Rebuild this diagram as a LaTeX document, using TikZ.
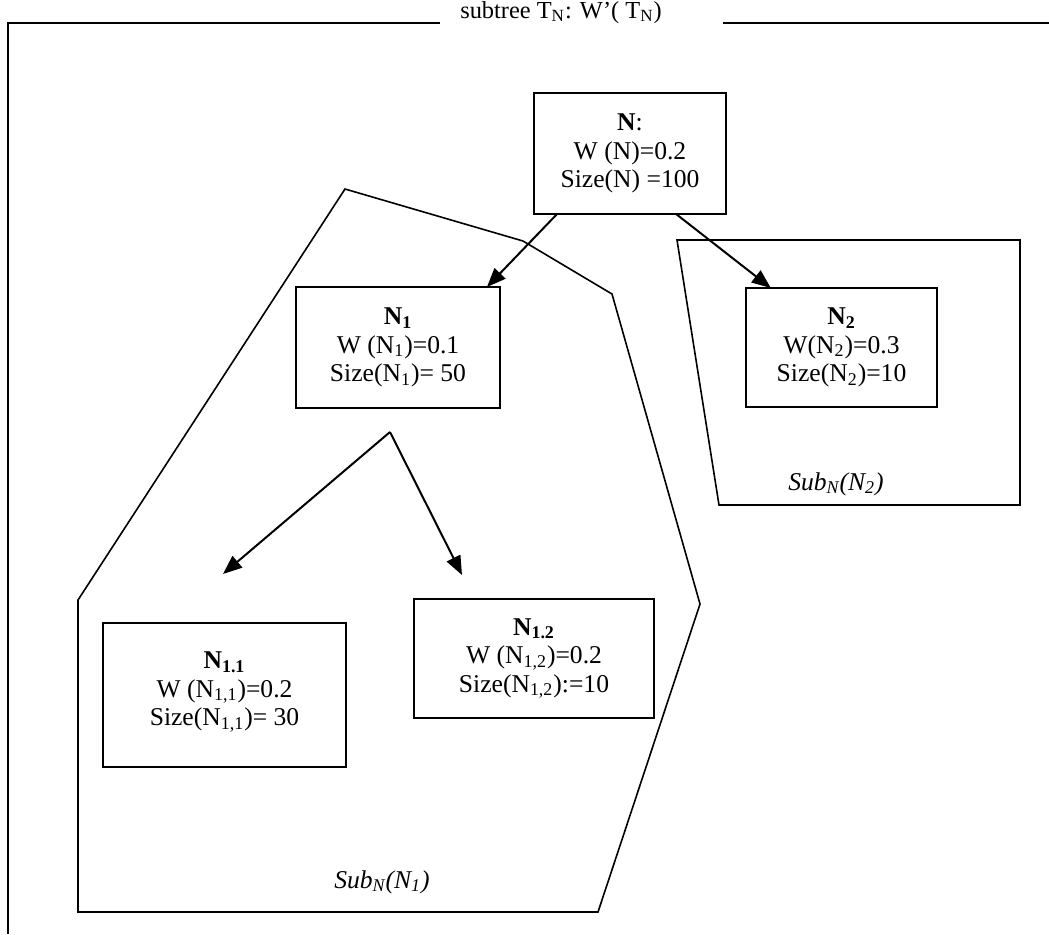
\documentclass[tikz,border=0pt]{standalone}
\usepackage{fontspec}
\setmainfont{Liberation Serif}
\usetikzlibrary{arrows.meta,calc}

\begin{document}
\begin{tikzpicture}[x=0.5pt,y=-0.5pt,
  box/.style={draw,line width=1pt,inner sep=0pt,outer sep=0pt,align=center,
    font=\fontsize{12.8}{14.3}\selectfont},
  region/.style={draw,line width=0.8pt,line join=miter},
  frame/.style={line width=1pt},
  arr/.style={line width=1pt,-{Triangle[length=9.5pt,width=7.5pt]}},
  lbl/.style={inner sep=0pt,font=\fontsize{12.8}{14.3}\selectfont\itshape}]

\useasboundingbox (0,0) rectangle (1049,934);

% outer frame with its title
\node[inner sep=0pt,anchor=base,font=\fontsize{12.2}{14}\selectfont] (title) at (561,18)
  {subtree T\textsubscript{N}: W'( T\textsubscript{N})};
\draw[frame] (440,23) -- (8,23) -- (8,934);
\draw[frame] (723,23) -- (1049,23);

% the two sub-subtree regions
\draw[region] (78,600) -- (345,189) -- (523,241) -- (612,294) -- (700,604)
  -- (598,912) -- (78,912) -- cycle;
\draw[region] (677,240) -- (1020,240) -- (1020,505) -- (719,505) -- cycle;
\node[lbl] (subN1) at (382,882) {Sub\textsubscript{N}(N\textsubscript{1})};
\node[lbl] (subN2) at (836,484) {Sub\textsubscript{N}(N\textsubscript{2})};

% tree nodes
\node[box,minimum width=96pt,minimum height=60.5pt] (N) at (630,153.5)
  {\textbf{N}:\\W (N)=0.2\\Size(N) =100};
\node[box,minimum width=102pt,minimum height=60.5pt] (N1) at (398,347.5)
  {\textbf{N\textsubscript{1}}\\W (N\textsubscript{1})=0.1\\Size(N\textsubscript{1})= 50};
\node[box,minimum width=95.5pt,minimum height=59.5pt] (N2) at (841.5,347.5)
  {\textbf{N\textsubscript{2}}\\W(N\textsubscript{2})=0.3\\Size(N\textsubscript{2})=10};
\node[box,minimum width=121.5pt,minimum height=72pt] (N11) at (224.5,695)
  {\textbf{N\textsubscript{1.1}}\\W (N\textsubscript{1,1})=0.2\\Size(N\textsubscript{1,1})= 30\\[-8pt]\mbox{}};
\node[box,minimum width=120pt,minimum height=59.5pt] (N12) at (534,658.5)
  {\textbf{N\textsubscript{1.2}}\\W (N\textsubscript{1,2})=0.2\\Size(N\textsubscript{1,2}):=10};

% edges
\draw[arr] ($(N.south west)!0.12!(N.south east)$) -- ($(N1.north west)!0.936!(N1.north east)$);
\draw[arr] ($(N.south west)!0.74!(N.south east)$) -- ($(N2.north west)!0.13!(N2.north east)$);

\coordinate (fork) at (390,432);
\coordinate (to11) at (223,574);
\coordinate (to12) at (462,575);
\draw[arr] (fork) -- (to11);
\draw[arr] (fork) -- (to12);
\end{tikzpicture}
\end{document}
